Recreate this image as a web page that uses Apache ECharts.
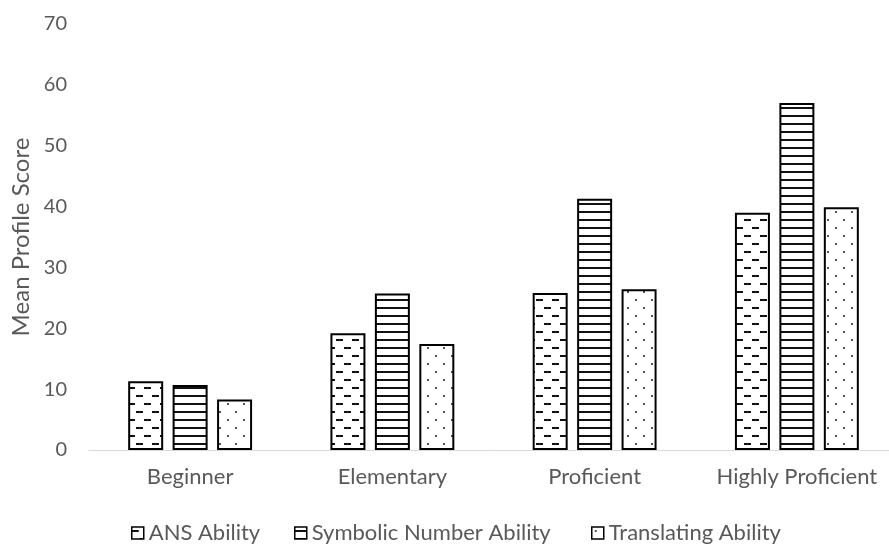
<!DOCTYPE html>
<html>
<head>
<meta charset="utf-8">
<script src="https://cdn.jsdelivr.net/npm/echarts@6/dist/echarts.min.js"></script>
<style>
html,body{margin:0;padding:0;background:#fff;overflow:hidden;}
#chart{width:900px;height:544px;}
</style>
</head>
<body>
<div id="chart"></div>
<script>
var categories = ['Beginner', 'Elementary', 'Proficient', 'Highly Proficient'];
var ansAbility = [11.3, 19.2, 25.8, 39.0];
var symbolicAbility = [10.7, 25.7, 41.3, 57.0];
var translatingAbility = [8.3, 17.4, 26.4, 39.9];
var seriesNames = ['ANS Ability', 'Symbolic Number Ability', 'Translating Ability'];
var yTicks = [0, 10, 20, 30, 40, 50, 60, 70];

function makeTile(w, h, draw) {
  var c = document.createElement('canvas');
  c.width = w; c.height = h;
  var ctx = c.getContext('2d');
  ctx.fillStyle = '#ffffff';
  ctx.fillRect(0, 0, w, h);
  draw(ctx);
  return c;
}
var dashTile = makeTile(16, 16, function (ctx) {
  ctx.fillStyle = '#111';
  ctx.fillRect(0, 3, 7, 2);
  ctx.fillRect(8, 11, 7, 2);
});
var lineTile = makeTile(8, 8, function (ctx) {
  ctx.fillStyle = '#111';
  ctx.fillRect(0, 3, 8, 2);
});
var dotTile = makeTile(16, 16, function (ctx) {
  ctx.fillStyle = '#555';
  ctx.fillRect(3, 3, 2, 2);
  ctx.fillRect(11, 11, 2, 2);
});

var textColor = '#595959';
var fontFamily = 'Lato';

function barSeries(name, data, tile) {
  return {
    name: name,
    type: 'bar',
    data: data,
    barWidth: 35,
    barGap: '27%',
    itemStyle: {
      color: { image: tile, repeat: 'repeat' },
      borderColor: '#000',
      borderWidth: 2
    },
    emphasis: { disabled: true }
  };
}

function legendAt(left, name) {
  return {
    data: [name],
    left: left,
    top: 517,
    itemWidth: 12,
    itemHeight: 12,
    itemGap: 0,
    icon: 'rect',
    itemStyle: { borderWidth: 1.5 },
    textStyle: { color: textColor, fontSize: 22, fontFamily: fontFamily },
    selectedMode: false
  };
}

var chart = echarts.init(document.getElementById('chart'), null, { renderer: 'canvas' });
chart.setOption({
  animation: false,
  backgroundColor: '#ffffff',
  grid: { left: 89, width: 809, top: 24, bottom: 94, containLabel: false },
  legend: [
    legendAt(126, seriesNames[0]),
    legendAt(289, seriesNames[1]),
    legendAt(586, seriesNames[2])
  ],
  xAxis: {
    type: 'category',
    data: categories,
    axisLine: { lineStyle: { color: '#d9d9d9', width: 1 } },
    axisTick: { show: false },
    axisLabel: { color: textColor, fontSize: 22, fontFamily: fontFamily, margin: 16, interval: 0 }
  },
  yAxis: {
    type: 'value',
    min: yTicks[0],
    max: yTicks[yTicks.length - 1],
    interval: 10,
    name: 'Mean Profile Score',
    nameLocation: 'middle',
    nameGap: 55,
    nameTextStyle: { color: textColor, fontSize: 24, fontFamily: fontFamily },
    axisLine: { show: false },
    axisTick: { show: false },
    splitLine: { show: false },
    axisLabel: { color: textColor, fontSize: 20, fontFamily: fontFamily, margin: 22, padding: [0, 0, 7, 0] }
  },
  series: [
    barSeries(seriesNames[0], ansAbility, dashTile),
    barSeries(seriesNames[1], symbolicAbility, lineTile),
    barSeries(seriesNames[2], translatingAbility, dotTile)
  ]
});
</script>
</body>
</html>
